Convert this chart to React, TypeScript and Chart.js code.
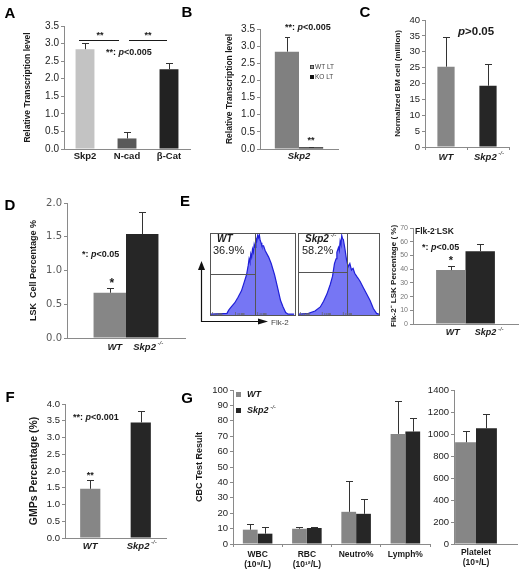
import React, { useEffect, useRef } from 'react';
import { Chart, registerables } from 'chart.js';

Chart.register(...registerables);

const PAGE_W = 520;
const PAGE_H = 574;
const SANS = '"Liberation Sans", Arial, Helvetica, sans-serif';
const WIDE = '"DejaVu Sans", Verdana, sans-serif';
const AXIS = '#8a8a8a';
const INK = '#1a1a1a';
const WT_GRAY = '#868686';
const KO_DARK = '#262626';
const ERR = '#333333';
const HIST_FILL = '#7676f4';
const HIST_EDGE = '#1f1fd8';

// ---------- Panel A ----------
const aLabels = ['Skp2', 'N-cad', 'β-Cat'];
const aValues = [2.84, 0.3, 2.27];
const aErrors = [0.19, 0.17, 0.19];
const aColors = ['#c3c3c3', '#595959', '#222222'];
const aYAxis = [0, 3.5, 0.5];
const aBracketLevel = [3.09];

// ---------- Panel B ----------
const bLabels = ['Skp2'];
const bSeries = ['WT LT', 'KO LT'];
const bWT = [2.84];
const bWTErr = [0.42];
const bKO = [0.05];
const bKOErr = [0.02];
const bYAxis = [0, 3.5, 0.5];

// ---------- Panels C–G shared groups ----------
const groupLabels = ['WT', 'Skp2'];

// ---------- Panel C ----------
const cValues = [25.3, 19.3];
const cErrors = [9.4, 6.7];
const cYAxis = [0, 40, 5];

// ---------- Panel D ----------
const dWT = [0.67];
const dWTErr = [0.065];
const dKO = [1.54];
const dKOErr = [0.32];
const dYAxis = [0, 2, 0.5];

// ---------- Panel E (flow histograms) ----------
const eWTChannel = [1, 20, 22, 25, 29, 33, 37, 40, 43, 45, 46, 47, 48, 49, 50, 51, 52, 53, 54, 55, 56, 57, 58, 59, 60, 61, 63, 65, 69, 72, 76, 80, 83, 86, 89, 92, 99];
const eWTCount = [1, 2, 6, 10, 15, 22, 30, 40, 50, 62, 70, 66, 76, 72, 82, 78, 88, 84, 95, 92, 99, 96, 100, 93, 90, 86, 86, 80, 72, 64, 50, 32, 18, 10, 3, 1, 1];
const eKOChannel = [1, 13, 21, 27.5, 31.6, 35.7, 39.8, 42.6, 45, 47, 48, 50, 51, 52, 53, 54, 55, 56, 58, 60, 62, 64, 66, 68, 70, 72.5, 74, 76.6, 80.7, 84.8, 89, 93, 97, 100];
const eKOCount = [1, 2, 5, 10, 17, 26, 38, 48, 64, 70, 78, 84, 80, 92, 88, 99, 95, 94, 82, 68, 60, 64, 56, 58, 52, 48, 46, 42, 34, 26, 18, 8, 2, 1];
const eWTGate = [53, 51];
const eKOGate = [60.5, 54];
const eWTPercent = ['36.9%'];
const eKOPercent = ['58.2%'];

// ---------- Panel E (bars) ----------
const eWT = [39.3];
const eWTErr = [3.2];
const eKO = [53.1];
const eKOErr = [5.1];
const eYAxis = [0, 70, 10];

// ---------- Panel F ----------
const fValues = [1.47, 3.45];
const fErrors = [0.25, 0.33];
const fYAxis = [0, 4, 0.5];

// ---------- Panel G ----------
const gLabels = [['WBC', '(10⁹/L)'], ['RBC', '(10¹²/L)'], ['Neutro%'], ['Lymph%']];
const gWT = [9.3, 9.9, 20.9, 71.5];
const gWTErr = [3.9, 1.3, 20.1, 21.4];
const gKO = [6.7, 10.4, 19.6, 73.0];
const gKOErr = [4.3, 0.8, 9.6, 9.0];
const gYAxis = [0, 100, 10];
const gPltLabels = [['Platelet', '(10⁹/L)']];
const gPltWT = [925];
const gPltWTErr = [105];
const gPltKO = [1052];
const gPltKOErr = [128];
const gPltYAxis = [0, 1400, 200];

// ---------- helpers ----------
type Seg = { t: string; f: string; dy?: number };

function bold(size: number, italic = false, family = SANS) {
  return `${italic ? 'italic ' : ''}bold ${size}px ${family}`;
}
function reg(size: number, family = SANS) {
  return `${size}px ${family}`;
}

function drawRich(ctx: CanvasRenderingContext2D, segs: Seg[], x: number, y: number, align: 'left' | 'center' | 'right' = 'center', color = INK) {
  ctx.save();
  ctx.fillStyle = color;
  ctx.textBaseline = 'middle';
  ctx.textAlign = 'left';
  const widths = segs.map((s) => {
    ctx.font = s.f;
    return ctx.measureText(s.t).width;
  });
  const total = widths.reduce((a, b) => a + b, 0);
  let cx = align === 'center' ? x - total / 2 : align === 'right' ? x - total : x;
  segs.forEach((s, i) => {
    ctx.font = s.f;
    ctx.fillText(s.t, cx, y + (s.dy || 0));
    cx += widths[i];
  });
  ctx.restore();
}

function line(ctx: CanvasRenderingContext2D, x1: number, y1: number, x2: number, y2: number, color = INK, w = 1) {
  ctx.save();
  ctx.strokeStyle = color;
  ctx.lineWidth = w;
  ctx.beginPath();
  ctx.moveTo(x1, y1);
  ctx.lineTo(x2, y2);
  ctx.stroke();
  ctx.restore();
}

function skp2Segs(size: number): Seg[] {
  return [
    { t: 'Skp2', f: bold(size, true) },
    { t: ' -/-', f: `italic ${Math.round(size * 0.62)}px ${SANS}`, dy: -size * 0.38 },
  ];
}
function pSegs(prefix: string, rest: string, size: number): Seg[] {
  return [
    { t: prefix, f: bold(size) },
    { t: 'p', f: bold(size, true) },
    { t: rest, f: bold(size) },
  ];
}

type Frame = { l: number; t: number; r: number; b: number; yW: number; xH: number };

function layoutFor(f: Frame) {
  return { padding: { left: f.l - f.yW, top: f.t, right: PAGE_W - f.r, bottom: PAGE_H - f.b - f.xH } };
}
function titleWidth(l: number, titleX: number, size: number) {
  return l - titleX + size * 0.6;
}

function yAxis(range: number[], width: number, o: any) {
  return {
    type: 'linear',
    position: 'left',
    min: range[0],
    max: range[1],
    ticks: {
      stepSize: range[2],
      color: o.tickColor || '#222222',
      font: { family: o.tickFamily || SANS, size: o.tickSize || 9.5 },
      padding: 2,
      callback: (v: any) => (o.decimals ? Number(v).toFixed(o.decimals) : String(v)),
    },
    grid: { display: true, drawOnChartArea: false, drawTicks: true, tickLength: 3, color: AXIS, lineWidth: 1 },
    border: { display: true, color: AXIS, width: 1 },
    title: o.title
      ? { display: true, text: o.title, padding: 0, color: INK, font: { family: SANS, size: o.titleSize, weight: 'bold' } }
      : { display: false },
    afterFit: (s: any) => {
      s.width = width;
    },
  };
}

function xAxis(height: number, o: any) {
  return {
    type: 'category',
    offset: true,
    grid: { display: !!o.marks, drawOnChartArea: false, drawTicks: !!o.marks, tickLength: 3, offset: true, color: AXIS },
    border: { display: true, color: AXIS, width: 1 },
    ticks: {
      display: !!o.labels,
      font: o.font,
      color: INK,
      padding: o.padding ?? 1,
      maxRotation: 0,
      minRotation: 0,
      autoSkip: false,
    },
    afterFit: (s: any) => {
      s.height = height;
    },
  };
}

function errorBars(errs: number[][], cap = 3.5) {
  return {
    id: 'errorBars',
    afterDatasetsDraw(chart: any) {
      const ctx = chart.ctx;
      const y = chart.scales.y;
      ctx.save();
      ctx.strokeStyle = ERR;
      ctx.lineWidth = 1;
      chart.data.datasets.forEach((ds: any, di: number) => {
        const meta = chart.getDatasetMeta(di);
        meta.data.forEach((el: any, i: number) => {
          const v = ds.data[i];
          const e = errs[di] ? errs[di][i] : undefined;
          if (v == null || e == null) return;
          const x = Math.round(el.x) + 0.5;
          const top = Math.round(y.getPixelForValue(v + e)) + 0.5;
          ctx.beginPath();
          ctx.moveTo(x, el.y);
          ctx.lineTo(x, top);
          ctx.moveTo(x - cap, top);
          ctx.lineTo(x + cap, top);
          ctx.stroke();
        });
      });
      ctx.restore();
    },
  };
}

function annot(id: string, fn: (chart: any, ctx: CanvasRenderingContext2D) => void) {
  return {
    id,
    afterDraw(chart: any) {
      fn(chart, chart.ctx);
    },
  };
}

function barConfig(o: any) {
  return {
    type: 'bar',
    data: { labels: o.labels, datasets: o.datasets },
    options: {
      responsive: false,
      animation: false,
      events: [],
      layout: layoutFor(o.frame),
      plugins: { legend: { display: false }, tooltip: { enabled: false }, title: { display: false } },
      scales: { x: o.x, y: o.y },
    },
    plugins: o.plugins,
  };
}

function ds(label: string, data: number[], color: any, catPct: number, barPct: number) {
  return { label, data, backgroundColor: color, categoryPercentage: catPct, barPercentage: barPct, borderWidth: 0 };
}

// ---------- Panel factories ----------
function makeA() {
  const frame: Frame = { l: 64, t: 26, r: 190, b: 149, yW: titleWidth(64, 28, 8.5), xH: 16 };
  return barConfig({
    labels: aLabels,
    datasets: [ds('A', aValues, aColors, 1, 0.45)],
    frame,
    x: xAxis(16, { labels: true, font: { family: SANS, size: 9.5, weight: 'bold' }, padding: 2 }),
    y: yAxis(aYAxis, frame.yW, { title: 'Relative Transcription level', titleSize: 8.5, tickSize: 10, decimals: 1 }),
    plugins: [
      errorBars([aErrors]),
      annot('a', (chart, ctx) => {
        const x = chart.scales.x;
        const y = chart.scales.y;
        const yl = Math.round(y.getPixelForValue(aBracketLevel[0])) + 0.5;
        const p0 = x.getPixelForTick(0);
        const p1 = x.getPixelForTick(1);
        const p2 = x.getPixelForTick(2);
        line(ctx, p0 - 6, yl, p1 - 8, yl);
        line(ctx, p1 + 2, yl, p2 - 2, yl);
        drawRich(ctx, [{ t: '**', f: bold(9) }], (p0 + p1) / 2 - 6, yl - 5);
        drawRich(ctx, [{ t: '**', f: bold(9) }], (p1 + p2) / 2, yl - 5);
        drawRich(ctx, pSegs('**: ', '<0.005', 9), 106, 53, 'left');
        // panel letters
        const letters: [string, number, number][] = [
          ['A', 10, 14], ['B', 187, 13], ['C', 365, 13], ['D', 10, 206],
          ['E', 185, 202], ['F', 10, 398], ['G', 187, 399],
        ];
        letters.forEach(([t, lx, ly]) => drawRich(ctx, [{ t, f: bold(15) }], lx, ly, 'center', '#000'));
      }),
    ],
  });
}

function makeB() {
  const frame: Frame = { l: 260, t: 29, r: 338, b: 149, yW: titleWidth(260, 230, 8.5), xH: 16 };
  return barConfig({
    labels: bLabels,
    datasets: [ds(bSeries[0], bWT, '#808080', 0.62, 1), ds(bSeries[1], bKO, '#111111', 0.62, 1)],
    frame,
    x: xAxis(16, { labels: true, font: { family: SANS, size: 9.5, weight: 'bold', style: 'italic' }, padding: 2 }),
    y: yAxis(bYAxis, frame.yW, { title: 'Relative Transcription level', titleSize: 8.5, tickSize: 10, decimals: 1 }),
    plugins: [
      errorBars([bWTErr, bKOErr], 2.5),
      annot('b', (chart, ctx) => {
        const y = chart.scales.y;
        const ko = chart.getDatasetMeta(1).data[0];
        drawRich(ctx, [{ t: '**', f: bold(9) }], ko.x, y.getPixelForValue(bKO[0] + bKOErr[0]) - 6);
        drawRich(ctx, pSegs('**: ', '<0.005', 9), 285, 28, 'left');
        // legend
        const lx = 310;
        const ly = [67, 77];
        ctx.save();
        ctx.fillStyle = '#9a9a9a';
        ctx.strokeStyle = '#333';
        ctx.lineWidth = 0.8;
        ctx.fillRect(lx, ly[0] - 2, 4, 4);
        ctx.strokeRect(lx + 0.4, ly[0] - 1.6, 3.2, 3.2);
        ctx.fillStyle = '#111';
        ctx.fillRect(lx, ly[1] - 2, 4, 4);
        ctx.restore();
        drawRich(ctx, [{ t: bSeries[0], f: reg(6.5) }], lx + 5, ly[0], 'left', '#444');
        drawRich(ctx, [{ t: bSeries[1], f: reg(6.5) }], lx + 5, ly[1], 'left', '#444');
      }),
    ],
  });
}

function makeC() {
  const frame: Frame = { l: 425, t: 20, r: 509, b: 147, yW: titleWidth(425, 397.5, 8), xH: 14 };
  return barConfig({
    labels: groupLabels,
    datasets: [ds('C', cValues, [WT_GRAY, KO_DARK], 1, 0.41)],
    frame,
    x: xAxis(14, { marks: true }),
    y: yAxis(cYAxis, frame.yW, { title: 'Normalized BM cell (million)', titleSize: 8, tickSize: 9.5 }),
    plugins: [
      errorBars([cErrors]),
      annot('c', (chart, ctx) => {
        const x = chart.scales.x;
        drawRich(ctx, [{ t: groupLabels[0], f: bold(9.5, true) }], x.getPixelForTick(0), 157);
        drawRich(ctx, skp2Segs(9.5), x.getPixelForTick(1) + 1, 157);
        drawRich(ctx, [{ t: 'p', f: bold(11.5, true) }, { t: '>0.05', f: bold(11.5) }], 458, 32, 'left');
      }),
    ],
  });
}

function makeD() {
  const frame: Frame = { l: 67, t: 203, r: 185, b: 338, yW: titleWidth(67, 34, 9), xH: 14 };
  return barConfig({
    labels: [''],
    datasets: [ds(groupLabels[0], dWT, WT_GRAY, 0.55, 1), ds(groupLabels[1], dKO, KO_DARK, 0.55, 1)],
    frame,
    x: xAxis(14, {}),
    y: yAxis(dYAxis, frame.yW, { title: 'LSK  Cell Percentage %', titleSize: 9, tickFamily: WIDE, tickSize: 10, tickColor: '#5a5a5a', decimals: 1 }),
    plugins: [
      errorBars([dWTErr, dKOErr]),
      annot('d', (chart, ctx) => {
        const y = chart.scales.y;
        const wt = chart.getDatasetMeta(0).data[0];
        const ko = chart.getDatasetMeta(1).data[0];
        drawRich(ctx, [{ t: groupLabels[0], f: bold(9.5, true) }], wt.x + 5, 347);
        drawRich(ctx, skp2Segs(9.5), ko.x + 6, 347);
        drawRich(ctx, pSegs('*: ', '<0.05', 9), 82, 255, 'left');
        drawRich(ctx, [{ t: '*', f: bold(12) }], wt.x + 2, y.getPixelForValue(dWT[0] + dWTErr[0]) - 5);
      }),
    ],
  });
}

function histConfig(xs: number[], ys: number[], box: { l: number; t: number; r: number; b: number }, gate: number[], draw: (chart: any, ctx: CanvasRenderingContext2D) => void) {
  return {
    type: 'line',
    data: {
      datasets: [
        {
          data: xs.map((x, i) => ({ x, y: ys[i] })),
          fill: 'origin',
          backgroundColor: HIST_FILL,
          borderColor: HIST_EDGE,
          borderWidth: 1.2,
          pointRadius: 0,
          tension: 0,
        },
      ],
    },
    options: {
      responsive: false,
      animation: false,
      events: [],
      layout: { padding: { left: box.l, top: box.t, right: PAGE_W - box.r, bottom: PAGE_H - box.b } },
      plugins: { legend: { display: false }, tooltip: { enabled: false } },
      scales: {
        x: { type: 'linear', min: 0, max: 100, display: false },
        y: { type: 'linear', min: 0, max: 102, display: false },
      },
    },
    plugins: [
      annot('hist', (chart, ctx) => {
        const a = chart.chartArea;
        const x = chart.scales.x;
        const y = chart.scales.y;
        const gx = Math.round(x.getPixelForValue(gate[0])) + 0.5;
        const gy = Math.round(y.getPixelForValue(gate[1])) + 0.5;
        ctx.save();
        ctx.strokeStyle = '#555';
        ctx.lineWidth = 1;
        ctx.strokeRect(Math.round(a.left) + 0.5, Math.round(a.top) + 0.5, Math.round(a.right - a.left), Math.round(a.bottom - a.top));
        ctx.restore();
        line(ctx, gx, a.top, gx, a.bottom, '#555');
        line(ctx, a.left, gy, gx, gy, '#555');
        // log decade tick marks along the bottom edge
        ctx.save();
        ctx.strokeStyle = '#666';
        ctx.lineWidth = 0.7;
        [3, 6, 8, 10, 11, 12, 13, 14, 30, 33, 35, 37, 38, 39, 40, 56, 59, 61, 63, 64, 65, 66].forEach((v) => {
          const px = x.getPixelForValue(v);
          ctx.beginPath();
          ctx.moveTo(px, a.bottom);
          ctx.lineTo(px, a.bottom - (v === 3 || v === 30 || v === 56 ? 3 : 2));
          ctx.stroke();
        });
        ctx.restore();
        draw(chart, ctx);
      }),
    ],
  };
}

function makeEHistWT() {
  return histConfig(eWTChannel, eWTCount, { l: 210, t: 233, r: 295, b: 315 }, eWTGate, (chart, ctx) => {
    drawRich(ctx, [{ t: groupLabels[0], f: bold(10, true) }], 217, 239, 'left');
    drawRich(ctx, [{ t: eWTPercent[0], f: reg(11) }], 213, 251, 'left');
    // axis arrows
    line(ctx, 201.5, 322, 201.5, 268, '#111', 1.2);
    line(ctx, 201, 321.5, 260, 321.5, '#111', 1.2);
    ctx.save();
    ctx.fillStyle = '#111';
    ctx.beginPath();
    ctx.moveTo(201.5, 261);
    ctx.lineTo(198, 270);
    ctx.lineTo(205, 270);
    ctx.closePath();
    ctx.fill();
    ctx.beginPath();
    ctx.moveTo(268, 321.5);
    ctx.lineTo(258, 318.5);
    ctx.lineTo(258, 324.5);
    ctx.closePath();
    ctx.fill();
    ctx.restore();
    drawRich(ctx, [{ t: 'Flk-2', f: reg(8) }], 271, 323, 'left', '#444');
  });
}

function makeEHistKO() {
  return histConfig(eKOChannel, eKOCount, { l: 298, t: 233, r: 379, b: 315 }, eKOGate, (chart, ctx) => {
    drawRich(ctx, skp2Segs(10), 305, 239, 'left');
    drawRich(ctx, [{ t: eKOPercent[0], f: reg(11) }], 302, 251, 'left');
  });
}

function makeEBar() {
  const frame: Frame = { l: 413, t: 228, r: 518, b: 324, yW: titleWidth(413, 393.5, 8), xH: 12 };
  return barConfig({
    labels: [''],
    datasets: [ds(groupLabels[0], eWT, WT_GRAY, 0.56, 1), ds(groupLabels[1], eKO, KO_DARK, 0.56, 1)],
    frame,
    x: xAxis(12, {}),
    y: yAxis(eYAxis, frame.yW, { title: 'Flk-2⁻ LSK Percentage ( %)', titleSize: 8, tickSize: 7, tickColor: '#777' }),
    plugins: [
      errorBars([eWTErr, eKOErr]),
      annot('e', (chart, ctx) => {
        const y = chart.scales.y;
        const wt = chart.getDatasetMeta(0).data[0];
        const ko = chart.getDatasetMeta(1).data[0];
        drawRich(ctx, [{ t: groupLabels[0], f: bold(9, true) }], wt.x + 2, 333);
        drawRich(ctx, skp2Segs(9), ko.x + 9, 333);
        drawRich(ctx, [{ t: 'Flk-2', f: bold(8.5) }, { t: '-', f: bold(6), dy: -3 }, { t: 'LSK', f: bold(8.5) }], 415, 232, 'left');
        drawRich(ctx, pSegs('*: ', '<0.05', 9), 422, 248, 'left');
        drawRich(ctx, [{ t: '*', f: bold(11) }], wt.x, y.getPixelForValue(eWT[0] + eWTErr[0]) - 5);
      }),
    ],
  });
}

function makeF() {
  const frame: Frame = { l: 65, t: 404, r: 166, b: 538, yW: titleWidth(65, 34, 10.5), xH: 14 };
  return barConfig({
    labels: groupLabels,
    datasets: [ds('F', fValues, [WT_GRAY, KO_DARK], 1, 0.4)],
    frame,
    x: xAxis(14, {}),
    y: yAxis(fYAxis, frame.yW, { title: 'GMPs Percentage (%)', titleSize: 10.5, tickSize: 9.5, decimals: 1 }),
    plugins: [
      errorBars([fErrors]),
      annot('f', (chart, ctx) => {
        const x = chart.scales.x;
        const y = chart.scales.y;
        drawRich(ctx, [{ t: groupLabels[0], f: bold(9.5, true) }], x.getPixelForTick(0), 546);
        drawRich(ctx, skp2Segs(9.5), x.getPixelForTick(1) + 1, 546);
        drawRich(ctx, pSegs('**: ', '<0.001', 9), 73, 418, 'left');
        drawRich(ctx, [{ t: '**', f: bold(9) }], x.getPixelForTick(0), y.getPixelForValue(fValues[0] + fErrors[0]) - 5);
      }),
    ],
  });
}

function makeG() {
  const frame: Frame = { l: 233, t: 390, r: 430, b: 544, yW: titleWidth(233, 200, 9), xH: 26 };
  return barConfig({
    labels: gLabels,
    datasets: [ds(groupLabels[0], gWT, WT_GRAY, 0.6, 1), ds(groupLabels[1], gKO, KO_DARK, 0.6, 1)],
    frame,
    x: xAxis(26, { labels: true, marks: true, font: { family: SANS, size: 8.5, weight: 'bold', lineHeight: 1.25 }, padding: 2 }),
    y: yAxis(gYAxis, frame.yW, { title: 'CBC Test Result', titleSize: 9, tickSize: 9.5 }),
    plugins: [
      errorBars([gWTErr, gKOErr]),
      annot('g', (chart, ctx) => {
        ctx.save();
        ctx.fillStyle = WT_GRAY;
        ctx.fillRect(236, 392, 5, 5);
        ctx.fillStyle = KO_DARK;
        ctx.fillRect(236, 408, 5, 5);
        ctx.restore();
        drawRich(ctx, [{ t: groupLabels[0], f: bold(9, true) }], 247, 395, 'left');
        drawRich(ctx, skp2Segs(9), 247, 411, 'left');
      }),
    ],
  });
}

function makeGPlatelet() {
  const frame: Frame = { l: 454, t: 390, r: 498, b: 544, yW: 40, xH: 26 };
  return barConfig({
    labels: gPltLabels,
    datasets: [ds(groupLabels[0], gPltWT, WT_GRAY, 0.95, 1), ds(groupLabels[1], gPltKO, KO_DARK, 0.95, 1)],
    frame,
    x: xAxis(26, { labels: true, font: { family: SANS, size: 8.5, weight: 'bold', lineHeight: 1.25 }, padding: 3 }),
    y: yAxis(gPltYAxis, frame.yW, { tickSize: 9.5 }),
    plugins: [
      errorBars([gPltWTErr, gPltKOErr]),
      annot('gp', (chart, ctx) => {
        const a = chart.chartArea;
        line(ctx, a.right, Math.round(a.bottom) + 0.5, 518, Math.round(a.bottom) + 0.5, AXIS);
      }),
    ],
  });
}

const factories = [makeA, makeB, makeC, makeD, makeEHistWT, makeEHistKO, makeEBar, makeF, makeG, makeGPlatelet];

function ChartLayer({ make }: { make: () => any }) {
  const ref = useRef<HTMLCanvasElement | null>(null);
  useEffect(() => {
    if (!ref.current) return;
    const chart = new Chart(ref.current, make());
    return () => chart.destroy();
  }, [make]);
  return <canvas ref={ref} width={PAGE_W} height={PAGE_H} style={{ position: 'absolute', left: 0, top: 0 }} />;
}

export default function App() {
  return (
    <div style={{ position: 'absolute', left: 0, top: 0, width: PAGE_W, height: PAGE_H, background: '#ffffff', overflow: 'hidden' }}>
      {factories.map((f, i) => (
        <ChartLayer key={i} make={f} />
      ))}
    </div>
  );
}
